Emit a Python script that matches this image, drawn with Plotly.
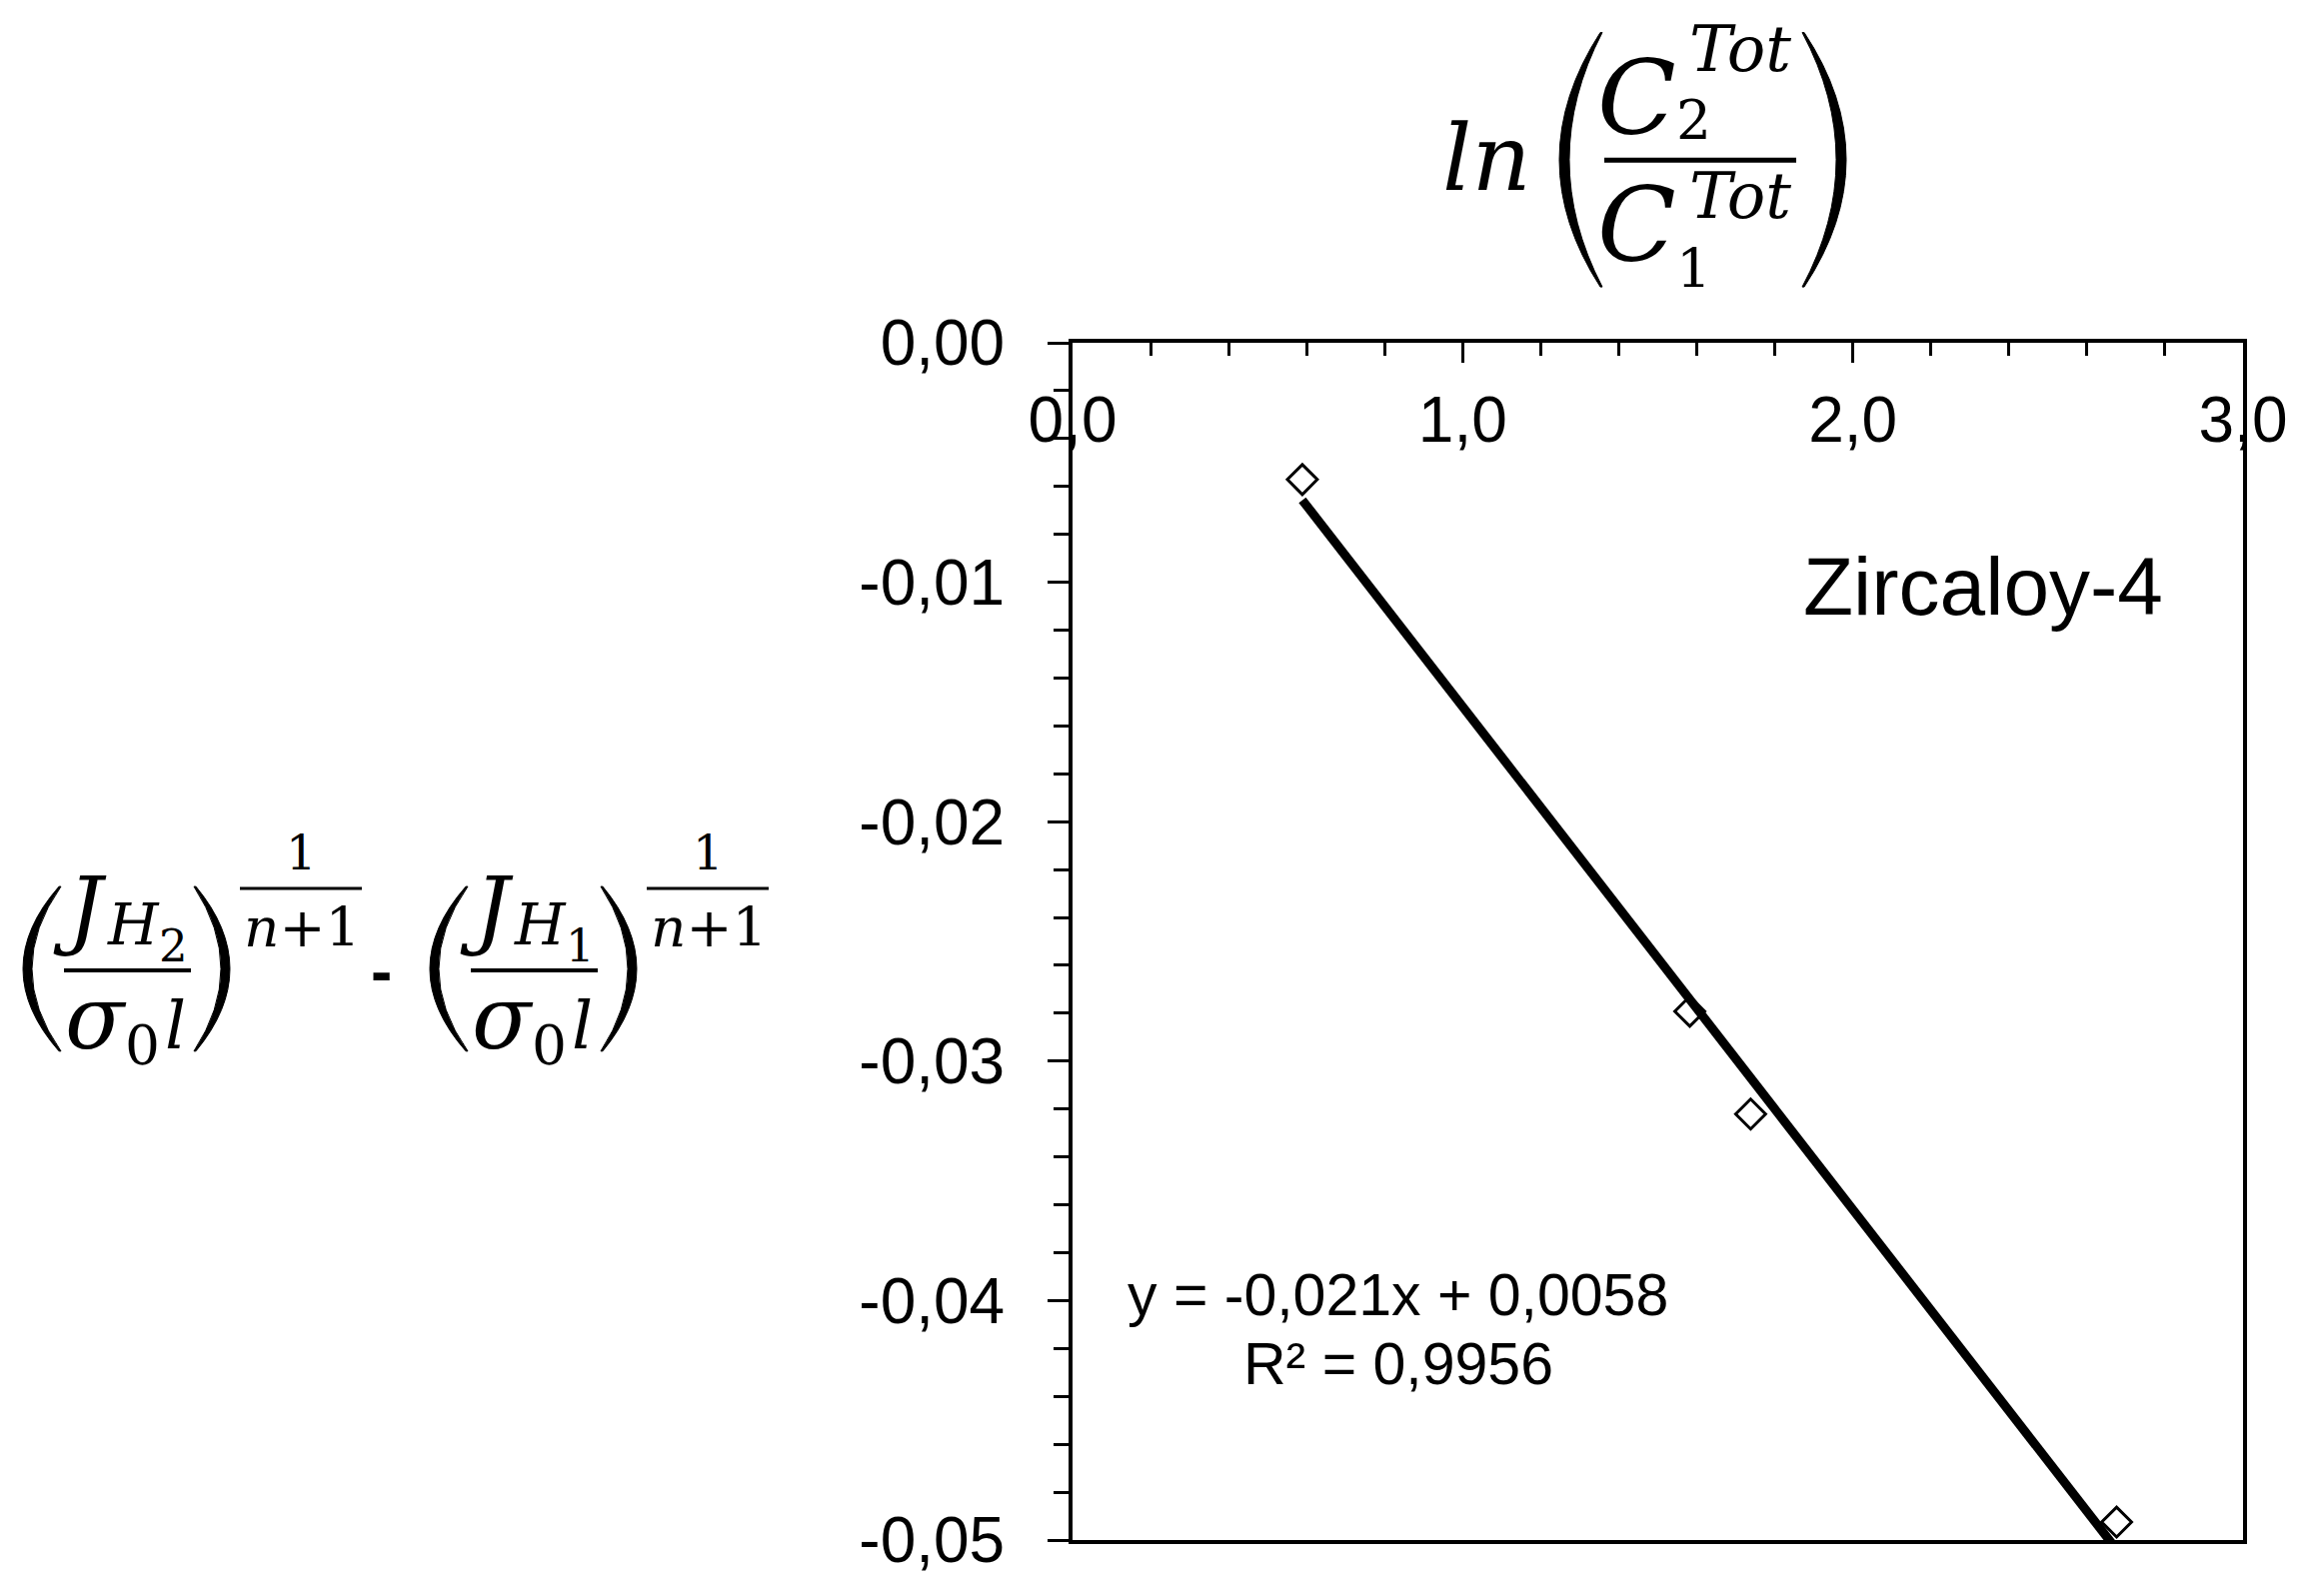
import plotly.graph_objects as go

# values
x_vals = [0.589, 1.582, 1.738, 2.676]
y_vals = [-0.00571, -0.02792, -0.03221, -0.04925]

# trendline as printed on the chart
fit_slope = -0.021
fit_intercept = 0.0058
r_squared = 0.9956

x_ticks = [0, 1, 2, 3]
x_tick_labels = ["0,0", "1,0", "2,0", "3,0"]
y_ticks = [0.0, -0.01, -0.02, -0.03, -0.04, -0.05]
y_tick_labels = ["0,00", "-0,01", "-0,02", "-0,03", "-0,04", "-0,05"]

label_text = "Zircaloy-4"

# page geometry (pixels); the page body has an 8px margin
W, H = 2310, 1597
OFF = 8
L, R, T, B = 1073, 2244, 343, 1543

SANS = "Liberation Sans, Arial, sans-serif"
SERIF = "DejaVu Serif, serif"


def pxx(x):
    return (x - L) / (R - L)


def pxy(y):
    return (B - y) / (B - T)


annotations = []
shapes = []


def txt(s, cx, base, size, family=SERIF, italic=True, weight="normal"):
    # place text by its horizontal centre and baseline, in page pixels
    k = 0.346
    annotations.append(dict(
        text=s, x=pxx(cx), y=pxy(base - k * size), xref="paper", yref="paper",
        xanchor="center", yanchor="middle", showarrow=False, borderpad=0,
        font=dict(family=family, size=size, color="black",
                  style="italic" if italic else "normal", weight=weight),
    ))


def bar(x0, x1, y, w=4):
    shapes.append(dict(type="line", xref="paper", yref="paper",
                       x0=pxx(x0), x1=pxx(x1), y0=pxy(y), y1=pxy(y),
                       line=dict(color="black", width=w)))


def paren(x_end, x_apex, y_top, y_bot, thick=9, e=2):
    s = 1 if x_end > x_apex else -1
    mid = (y_top + y_bot) / 2
    co = 2 * x_apex - x_end
    ci = 2 * (x_apex + s * thick) - (x_end + s * e)
    p = lambda x, y: f"{pxx(x):.5f},{pxy(y):.5f}"
    path = (f"M {p(x_end, y_top)} Q {p(co, mid)} {p(x_end, y_bot)} "
            f"L {p(x_end + s * e, y_bot)} Q {p(ci, mid)} {p(x_end + s * e, y_top)} Z")
    shapes.append(dict(type="path", xref="paper", yref="paper", path=path,
                       fillcolor="black", line=dict(color="black", width=1)))


# ---- x-axis title: ln(C2Tot / C1Tot)
txt("ln", 1487, 190, 92)
paren(1601, 1560, 32, 287, thick=10)
txt("C", 1637, 133, 103)
txt("2", 1694, 139, 55, italic=False)
txt("Tot", 1741, 71, 64)
bar(1605, 1797, 160, 5)
txt("C", 1637, 260, 103)
txt("1", 1694, 288, 55, italic=False)
txt("Tot", 1741, 218, 64)
paren(1805, 1847, 32, 287, thick=10)

# ---- y-axis title: (J_H2/σ0 l)^(1/(n+1)) - (J_H1/σ0 l)^(1/(n+1))
for shift, sub in [(0, "2"), (407, "1")]:
    paren(59 + shift, 23 + shift, 888, 1053, thick=9)
    txt("J", 80 + shift, 940, 86)
    txt("H", 133 + shift, 946, 58)
    txt(sub, 173 + shift, 963, 45, italic=False)
    bar(64 + shift, 191 + shift, 972, 4)
    txt("σ", 96 + shift, 1050, 87)
    txt("0", 142 + shift, 1066, 55, italic=False)
    txt("l", 175 + shift, 1050, 66)
    paren(196 + shift, 230 + shift, 888, 1053, thick=9)
    txt("1", 301 + shift, 870, 48, italic=False)
    bar(240 + shift, 362 + shift, 890, 3)
    txt("<i>n</i>+1", 302 + shift, 948, 55, italic=False)
txt("-", 381, 995, 64, family=SANS, italic=False, weight="bold")

# ---- in-plot labels
txt(label_text, 1984, 615, 82, family=SANS, italic=False)
eq_line = f"y = {fit_slope:.3f}x + {fit_intercept:.4f}".replace(".", ",")
r2_line = f"R² = {r_squared:.4f}".replace(".", ",")
txt(eq_line, 1398, 1318, 59, family=SANS, italic=False)
txt(r2_line, 1399, 1387, 59, family=SANS, italic=False)

fig = go.Figure()

fig.add_trace(go.Scatter(
    x=x_vals, y=y_vals, mode="markers",
    marker=dict(symbol="diamond-open", size=23, color="black",
                line=dict(color="black", width=3)),
    showlegend=False,
))

fit_x = [min(x_vals), max(x_vals)]
fit_y = [fit_slope * v + fit_intercept for v in fit_x]
fig.add_trace(go.Scatter(
    x=fit_x, y=fit_y, mode="lines",
    line=dict(color="black", width=9),
    showlegend=False,
))

fig.update_layout(
    width=W - 2 * OFF, height=H - 2 * OFF,
    margin=dict(l=L - OFF, r=W - R - OFF, t=T - OFF, b=H - B - OFF, pad=0),
    paper_bgcolor="white", plot_bgcolor="white",
    font=dict(family=SANS, color="black"),
    annotations=annotations, shapes=shapes,
    xaxis=dict(
        range=[0, 3], side="top",
        tickmode="array", tickvals=x_ticks, ticktext=x_tick_labels,
        ticks="inside", ticklen=20, tickwidth=3, tickcolor="black",
        minor=dict(tickmode="linear", tick0=0, dtick=0.2, ticks="inside",
                   ticklen=13, tickwidth=3, tickcolor="black"),
        ticklabelposition="inside", ticklabelstandoff=44,
        ticklabeloverflow="allow",
        tickfont=dict(family=SANS, size=64, color="black"),
        showline=True, linewidth=4, linecolor="black", mirror=True,
        showgrid=False, zeroline=False,
    ),
    yaxis=dict(
        range=[-0.05, 0],
        tickmode="array", tickvals=y_ticks, ticktext=y_tick_labels,
        ticks="outside", ticklen=21, tickwidth=3, tickcolor="black",
        minor=dict(tickmode="linear", tick0=0, dtick=0.002, ticks="outside",
                   ticklen=15, tickwidth=3, tickcolor="black"),
        ticklabelstandoff=30, ticklabeloverflow="allow",
        tickfont=dict(family=SANS, size=64, color="black"),
        showline=True, linewidth=4, linecolor="black", mirror=True,
        showgrid=False, zeroline=False,
    ),
)

fig.write_html("out.html")
